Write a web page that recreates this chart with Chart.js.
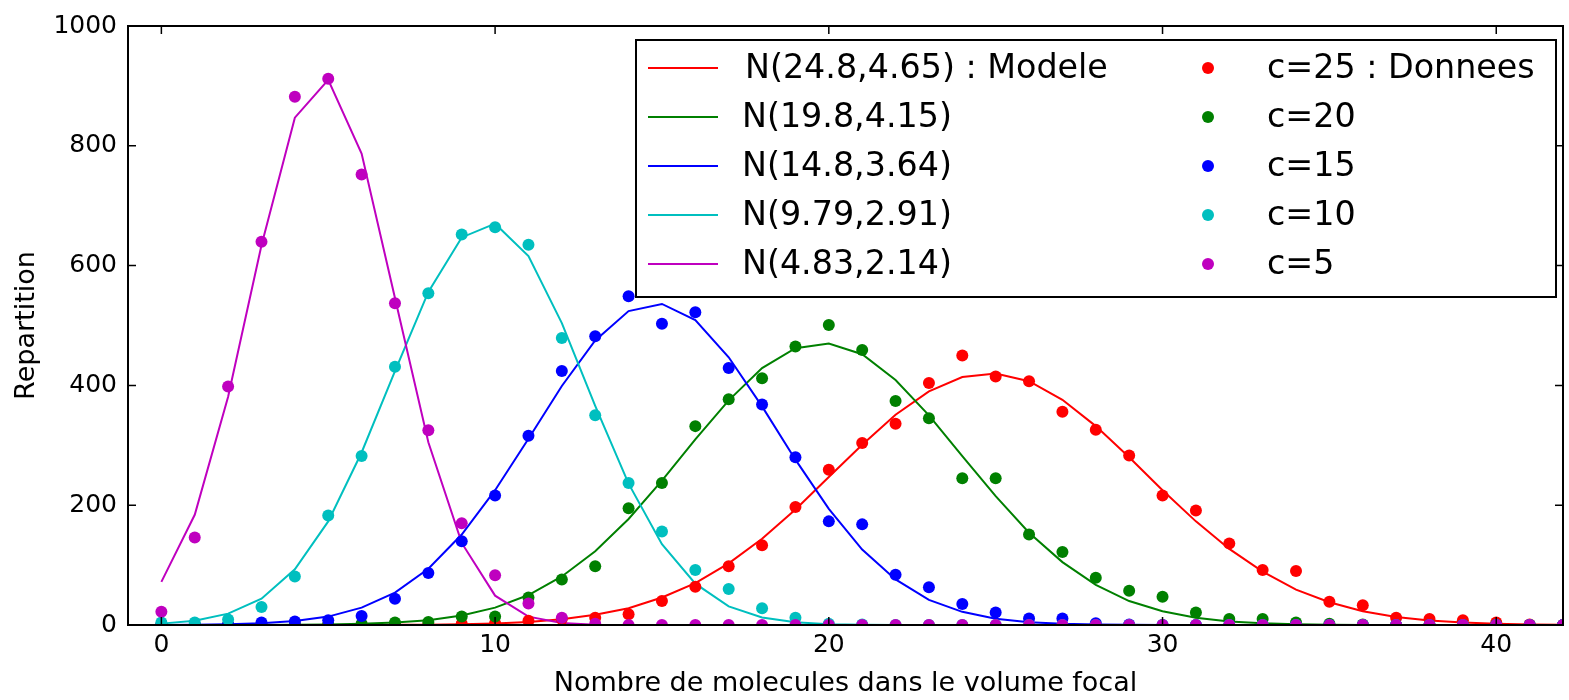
<!DOCTYPE html>
<html>
<head>
<meta charset="utf-8">
<script src="https://cdn.jsdelivr.net/npm/chart.js@4.4.0/dist/chart.umd.min.js"></script>
<style>
  html, body { margin: 0; padding: 0; background: #fff; }
  #wrap { width: 1569px; height: 700px; }
</style>
</head>
<body>
<div id="wrap"><canvas id="myChart" width="1569" height="700"></canvas></div>
<script>
// nombre de molecules (axe x)
const xs = [0, 1, 2, 3, 4, 5, 6, 7, 8, 9, 10, 11, 12, 13, 14, 15, 16, 17, 18, 19, 20,
  21, 22, 23, 24, 25, 26, 27, 28, 29, 30, 31, 32, 33, 34, 35, 36, 37, 38, 39, 40, 41, 42];
const xTicks = [0, 10, 20, 30, 40];
const yTicks = [0, 200, 400, 600, 800, 1000];

// modeles (courbes)
const modelC25 = [0, 0, 0, 0, 0, 0.1, 0.1, 0.3, 0.6, 1.3, 2.7, 5, 9.5, 17, 28, 46, 70, 103, 144, 193, 247,
  301, 351, 390, 414, 420, 407, 376, 332, 280, 225, 173, 127, 89, 59, 38, 23, 13.5, 7.5, 4, 2, 1, 0.5];
const modelC20 = [0, 0, 0, 0.1, 0.3, 0.8, 1.9, 4, 8, 16, 29, 50, 81, 123, 177, 241, 310, 375, 429, 462, 470,
  452, 409, 350, 282, 215, 154, 105, 67, 40, 23, 12, 6, 3, 1.4, 0.6, 0.2, 0.1, 0, 0, 0, 0, 0];
const modelC15 = [0.1, 0.4, 1.1, 2.8, 6.6, 14, 29, 54, 94, 151, 225, 311, 399, 475, 524, 536, 509, 447, 365, 276, 194,
  126, 76, 42, 22, 10.6, 4.7, 2, 0.8, 0.3, 0.1, 0, 0, 0, 0, 0, 0, 0, 0, 0, 0, 0, 0];
const modelC10 = [2.3, 7, 19, 44, 93, 173, 288, 424, 556, 647, 670, 616, 504, 366, 236, 135, 69, 31, 12.6, 4.5, 1.4,
  0.4, 0.1, 0, 0, 0, 0, 0, 0, 0, 0, 0, 0, 0, 0, 0, 0, 0, 0, 0, 0, 0, 0];
const modelC5 = [72, 184, 381, 634, 847, 910, 787, 546, 305, 137, 49, 14, 3.3, 0.6, 0.1, 0, 0, 0, 0, 0, 0,
  0, 0, 0, 0, 0, 0, 0, 0, 0, 0, 0, 0, 0, 0, 0, 0, 0, 0, 0, 0, 0, 0];

// donnees (points)
const dataC25 = [0, 0, 0, 0, 0, 0, 0, 0, 1, 2, 3, 7, 10, 12, 18, 40, 64, 98, 133, 197, 259,
  304, 336, 404, 450, 415, 407, 356, 326, 283, 216, 191, 136, 92, 90, 39, 33, 12, 10, 8, 4, 1, 0];
const dataC20 = [0, 0, 0, 0, 0, 1, 2, 4, 5, 14, 14, 46, 76, 98, 195, 237, 332, 377, 412, 465, 501,
  459, 374, 345, 245, 245, 151, 122, 79, 57, 47, 21, 10, 10, 4, 2, 1, 0, 0, 0, 0, 0, 0];
const dataC15 = [0, 0, 1, 4, 6, 8, 15, 44, 87, 140, 216, 316, 424, 482, 549, 503, 522, 429, 368, 280, 173,
  168, 84, 63, 35, 21, 11, 11, 3, 1, 0, 0, 0, 0, 0, 0, 0, 0, 0, 0, 0, 0, 0];
const dataC10 = [4, 4, 9, 30, 81, 183, 282, 431, 554, 652, 664, 635, 479, 350, 237, 156, 92, 60, 28, 12, 2,
  1, 0, 0, 0, 0, 0, 0, 0, 0, 0, 0, 0, 0, 0, 0, 0, 0, 0, 0, 0, 0, 0];
const dataC5 = [22, 146, 398, 640, 882, 912, 752, 537, 325, 170, 83, 36, 12, 2, 0, 0, 0, 0, 0, 0, 0,
  0, 0, 0, 0, 0, 0, 0, 0, 0, 0, 0, 0, 0, 0, 0, 0, 0, 0, 0, 0, 0, 0];

const modelLabels = ['N(24.8,4.65) : Modele', 'N(19.8,4.15)', 'N(14.8,3.64)', 'N(9.79,2.91)', 'N(4.83,2.14)'];
const dataLabels = ['c=25 : Donnees', 'c=20', 'c=15', 'c=10', 'c=5'];

const models = [modelC25, modelC20, modelC15, modelC10, modelC5];
const points = [dataC25, dataC20, dataC15, dataC10, dataC5];
const colors = ['#ff0000', '#008000', '#0000ff', '#00bfbf', '#bf00bf'];

const toXY = arr => xs.map((x, i) => ({ x: x, y: arr[i] }));

const datasets = [];
models.forEach((m, i) => {
  datasets.push({
    label: modelLabels[i],
    data: toXY(m),
    showLine: true,
    borderColor: colors[i],
    borderWidth: 2,
    pointRadius: 0,
    tension: 0,
    order: 20 - i
  });
});
points.forEach((p, i) => {
  datasets.push({
    label: dataLabels[i],
    data: toXY(p),
    showLine: false,
    backgroundColor: colors[i],
    borderWidth: 0,
    pointRadius: 6,
    order: 10 - i
  });
});

// cadre + graduations vers l'interieur, facon matplotlib
const framePlugin = {
  id: 'frame',
  afterDatasetsDraw(chart) {
    const { ctx, chartArea: a, scales } = chart;
    ctx.save();
    ctx.strokeStyle = '#000';
    ctx.lineWidth = 2;
    ctx.strokeRect(a.left, a.top, a.right - a.left, a.bottom - a.top);
    ctx.lineWidth = 1.5;
    ctx.beginPath();
    scales.x.ticks.forEach(t => {
      const px = scales.x.getPixelForValue(t.value);
      ctx.moveTo(px, a.bottom); ctx.lineTo(px, a.bottom - 8);
      ctx.moveTo(px, a.top); ctx.lineTo(px, a.top + 8);
    });
    scales.y.ticks.forEach(t => {
      const py = scales.y.getPixelForValue(t.value);
      ctx.moveTo(a.left, py); ctx.lineTo(a.left + 8, py);
      ctx.moveTo(a.right, py); ctx.lineTo(a.right - 8, py);
    });
    ctx.stroke();
    ctx.restore();
  }
};

// legende dans un cadre, deux colonnes
const boxLegend = {
  id: 'boxLegend',
  afterDraw(chart) {
    const ctx = chart.ctx;
    const bx = 636, by = 40, bw = 920, bh = 257;
    ctx.save();
    ctx.fillStyle = '#fff';
    ctx.fillRect(bx, by, bw, bh);
    ctx.strokeStyle = '#000';
    ctx.lineWidth = 2;
    ctx.strokeRect(bx, by, bw, bh);
    ctx.font = '34px "DejaVu Sans"';
    ctx.textBaseline = 'middle';
    for (let i = 0; i < 5; i++) {
      const y = 68 + i * 49;
      ctx.strokeStyle = colors[i];
      ctx.lineWidth = 2;
      ctx.beginPath();
      ctx.moveTo(648, y); ctx.lineTo(718, y);
      ctx.stroke();
      ctx.fillStyle = colors[i];
      ctx.beginPath();
      ctx.arc(1208, y, 6, 0, Math.PI * 2);
      ctx.fill();
      ctx.fillStyle = '#000';
      [[i === 0 ? 745 : 742, modelLabels[i]], [1267, dataLabels[i]]].forEach(([tx, txt]) => {
        ctx.save();
        ctx.translate(tx, y + 1);
        ctx.scale(0.98, 1);
        ctx.fillText(txt, 0, 0);
        ctx.restore();
      });
    }
    ctx.restore();
  }
};

const ctx = document.getElementById('myChart').getContext('2d');
const myChart = new Chart(ctx, {
  type: 'scatter',
  data: { datasets: datasets },
  plugins: [framePlugin, boxLegend],
  options: {
    responsive: false,
    animation: false,
    layout: { padding: { top: 23, right: 0, left: 0, bottom: 0 } },
    plugins: { legend: { display: false }, tooltip: { enabled: false } },
    scales: {
      x: {
        type: 'linear',
        min: -1,
        max: 42,
        afterBuildTicks: s => { s.ticks = xTicks.map(v => ({ value: v })); },
        afterFit: s => { s.height = 75; },
        grid: { display: false, drawTicks: false },
        border: { display: false },
        ticks: { color: '#000', font: { family: 'DejaVu Sans', size: 25 }, padding: 5, maxRotation: 0,
          callback: v => String(v) },
        title: {
          display: true,
          text: 'Nombre de molecules dans le volume focal',
          color: '#000',
          font: { family: 'DejaVu Sans', size: 27 },
          padding: { top: 1, bottom: 0 }
        }
      },
      y: {
        min: 0,
        max: 1000,
        afterBuildTicks: s => { s.ticks = yTicks.map(v => ({ value: v })); },
        afterFit: s => { s.width = 128; },
        grid: { display: false, drawTicks: false },
        border: { display: false },
        ticks: { color: '#000', font: { family: 'DejaVu Sans', size: 25 }, padding: 11,
          callback: v => String(v) },
        title: {
          display: true,
          text: 'Repartition',
          color: '#000',
          font: { family: 'DejaVu Sans', size: 27 },
          padding: { top: 11, bottom: 0 }
        }
      }
    }
  }
});
</script>
</body>
</html>
